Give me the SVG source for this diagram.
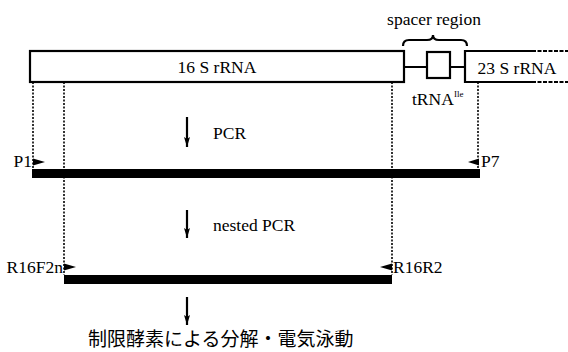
<svg xmlns="http://www.w3.org/2000/svg" width="568" height="352" viewBox="0 0 568 352">
<defs>
<style>
.t{font-family:"Liberation Serif","Times New Roman",serif;font-size:17.5px;fill:#000}
.box{fill:#fff;stroke:#000;stroke-width:2.2}
.dot{stroke:#000;stroke-width:1.6;stroke-dasharray:2 1.5;fill:none}
.ln{stroke:#000;stroke-width:2.2;fill:none}
.bar{fill:#000}
.jp{font-family:"Liberation Serif","Noto Sans CJK JP",serif;font-size:19px;fill:#000}
</style>
<marker id="ah" viewBox="0 0 10 6" refX="10" refY="3" markerWidth="10" markerHeight="6" markerUnits="userSpaceOnUse" orient="auto">
<path d="M0,0 L10,3 L0,6 L2,3 Z" fill="#000"/>
</marker>
</defs>
<rect width="568" height="352" fill="#fff"/>

<g id="rrna16s">
<rect class="box" x="30" y="51" width="374" height="31"/>
<text class="t" x="217" y="73" text-anchor="middle">16 S rRNA</text>
</g>

<g id="spacer">
<path class="ln" stroke-width="2.6" d="M403,46 Q403,40 409,40 L427,40 Q433,40 433,35 Q433,40 439,40 L461,40 Q467,40 467,46"/>
<text class="t" x="434" y="25" text-anchor="middle">spacer region</text>
</g>

<g id="trna">
<rect class="box" x="427" y="52" width="23" height="26"/>
<text class="t" x="412" y="105">tRNA</text>
<text class="t" x="454" y="97" style="font-size:9px">Ile</text>
</g>

<g id="rrna23s">
<path class="ln" d="M532,51 L465,51 L465,82 L532,82"/>
<path class="ln" stroke-dasharray="4 1.5" d="M532,51 L568,51 M532,82 L568,82"/>
<text class="t" x="517" y="74" text-anchor="middle">23 S rRNA</text>
</g>

<g id="connectors">
<path class="ln" d="M404,67 L427,67 M450,67 L465,67"/>
<path class="dot" d="M33,82 L33,169 M64,82 L64,275 M392,82 L392,275 M478,82 L478,169"/>
<path class="ln" d="M187,117 L187,147" marker-end="url(#ah)"/>
<path class="ln" d="M187,210 L187,238" marker-end="url(#ah)"/>
<path class="ln" d="M187,297 L187,325" marker-end="url(#ah)"/>
</g>

<g id="pcr-label">
<text class="t" x="213" y="139">PCR</text>
</g>

<g id="pcr-product">
<rect class="bar" x="32" y="169" width="448" height="9"/>
<path d="M33,158.5 L45,162 L33,165.5 Z" fill="#000"/>
<text class="t" x="32" y="167" text-anchor="end">P1</text>
<path d="M479,158.5 L468,162 L479,165.5 Z" fill="#000"/>
<text class="t" x="481" y="167">P7</text>
</g>

<g id="nested-label">
<text class="t" x="213" y="231">nested PCR</text>
</g>

<g id="nested-product">
<rect class="bar" x="64" y="275" width="328" height="9"/>
<path d="M64,263.5 L76,267 L64,270.5 Z" fill="#000"/>
<text class="t" x="63" y="273" text-anchor="end">R16F2n</text>
<path d="M392,263.5 L380,267 L392,270.5 Z" fill="#000"/>
<text class="t" x="393" y="273">R16R2</text>
</g>

<g id="final-step">
<text class="jp" x="88" y="346">制限酵素による分解・電気泳動</text>
</g>
</svg>
